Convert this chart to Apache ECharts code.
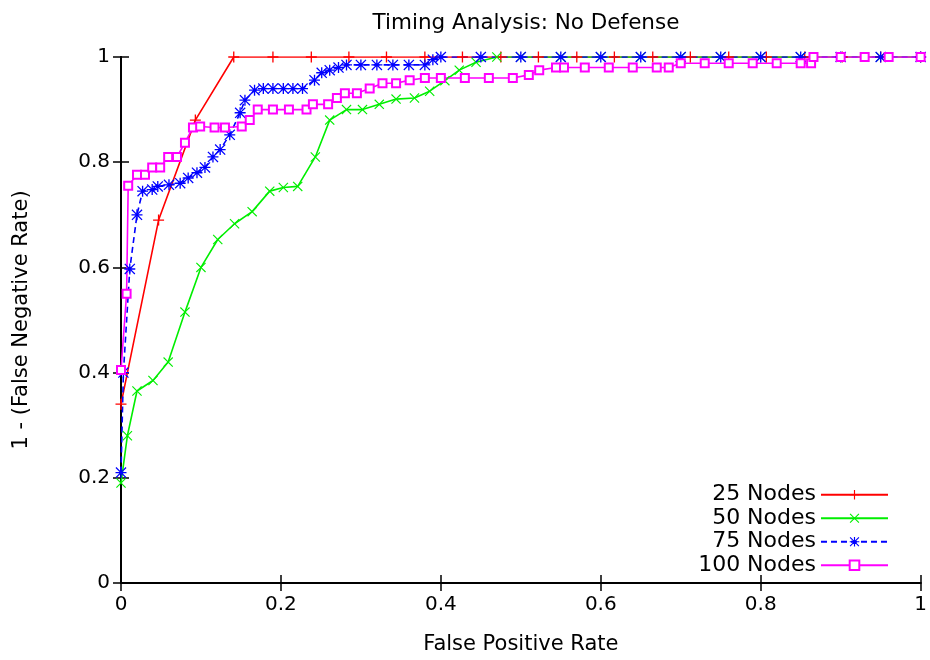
<!DOCTYPE html>
<html><head><meta charset="utf-8">
<script src="https://cdn.jsdelivr.net/npm/echarts@6/dist/echarts.min.js"></script>
<style>html,body{margin:0;padding:0;background:#fff}#c{width:930px;height:660px}</style>
</head><body><div id="c"></div>
<script>
const titleText = 'Timing Analysis: No Defense';
const xName = 'False Positive Rate';
const yName = '1 - (False Negative Rate)';
const seriesNames = ['25 Nodes', '50 Nodes', '75 Nodes', '100 Nodes'];
const tickValues = [0, 0.2, 0.4, 0.6, 0.8, 1];

const nodes25X = [0, 0.047, 0.093, 0.141, 0.19, 0.238, 0.285, 0.332, 0.38, 0.427, 0.475, 0.522, 0.57, 0.617, 0.665, 0.712, 0.76, 0.807, 0.855, 0.902, 0.95, 1.0];
const nodes25Y = [0.34, 0.69, 0.88, 1, 1, 1, 1, 1, 1, 1, 1, 1, 1, 1, 1, 1, 1, 1, 1, 1, 1, 1];

const nodes50X = [0, 0.008, 0.02, 0.04, 0.059, 0.08, 0.1, 0.121, 0.142, 0.164, 0.186, 0.203, 0.221, 0.243, 0.261, 0.282, 0.302, 0.323, 0.344, 0.367, 0.386, 0.405, 0.423, 0.444, 0.47, 0.5, 0.55, 0.6, 0.65, 0.7, 0.75, 0.8, 0.85, 0.9, 0.95, 1];
const nodes50Y = [0.19, 0.28, 0.365, 0.385, 0.42, 0.515, 0.6, 0.653, 0.683, 0.706, 0.745, 0.752, 0.754, 0.81, 0.88, 0.9, 0.9, 0.91, 0.92, 0.922, 0.935, 0.955, 0.975, 0.99, 1, 1, 1, 1, 1, 1, 1, 1, 1, 1, 1, 1];

const nodes75X = [0, 0.003, 0.011, 0.02, 0.027, 0.039, 0.046, 0.06, 0.074, 0.084, 0.095, 0.105, 0.115, 0.124, 0.136, 0.149, 0.155, 0.167, 0.178, 0.19, 0.203, 0.215, 0.227, 0.242, 0.251, 0.261, 0.272, 0.282, 0.3, 0.32, 0.34, 0.36, 0.38, 0.39, 0.4, 0.45, 0.5, 0.55, 0.6, 0.65, 0.7, 0.75, 0.8, 0.85, 0.9, 0.95, 1];
const nodes75Y = [0.21, 0.4, 0.597, 0.7, 0.745, 0.748, 0.754, 0.757, 0.76, 0.77, 0.78, 0.79, 0.81, 0.824, 0.852, 0.894, 0.918, 0.937, 0.94, 0.94, 0.94, 0.94, 0.94, 0.956, 0.97, 0.975, 0.98, 0.985, 0.985, 0.985, 0.985, 0.985, 0.985, 0.995, 1, 1, 1, 1, 1, 1, 1, 1, 1, 1, 1, 1, 1];

const nodes100X = [0, 0.007, 0.009, 0.02, 0.03, 0.039, 0.049, 0.059, 0.07, 0.08, 0.09, 0.099, 0.117, 0.13, 0.151, 0.161, 0.171, 0.19, 0.21, 0.232, 0.24, 0.259, 0.27, 0.28, 0.295, 0.311, 0.327, 0.344, 0.361, 0.38, 0.4, 0.43, 0.46, 0.49, 0.51, 0.523, 0.544, 0.554, 0.58, 0.61, 0.64, 0.67, 0.685, 0.7, 0.73, 0.76, 0.79, 0.82, 0.85, 0.863, 0.866, 0.9, 0.93, 0.96, 1];
const nodes100Y = [0.405, 0.55, 0.755, 0.776, 0.776, 0.79, 0.79, 0.81, 0.81, 0.837, 0.866, 0.868, 0.866, 0.866, 0.868, 0.88, 0.9, 0.9, 0.9, 0.9, 0.91, 0.91, 0.922, 0.931, 0.931, 0.94, 0.95, 0.95, 0.956, 0.96, 0.96, 0.96, 0.96, 0.96, 0.966, 0.975, 0.98, 0.98, 0.98, 0.98, 0.98, 0.98, 0.98, 0.988, 0.988, 0.988, 0.988, 0.988, 0.988, 0.988, 1, 1, 1, 1, 1];

const colors = ['#ff0000', '#00ee00', '#0000ff', '#ff00ff'];
const FONT = 'DejaVu Sans, Liberation Sans, sans-serif';

const PLUS = 'path://M4.4,0H5.6V4.4H10V5.6H5.6V10H4.4V5.6H0V4.4H4.4Z';
const CROSS = 'path://M0,0.8L0.8,0L5,4.2L9.2,0L10,0.8L5.8,5L10,9.2L9.2,10L5,5.8L0.8,10L0,9.2L4.2,5Z';
const STAR = 'path://M4.4,0H5.6V4.4H10V5.6H5.6V10H4.4V5.6H0V4.4H4.4Z M0,0.8L0.8,0L5,4.2L9.2,0L10,0.8L5.8,5L10,9.2L9.2,10L5,5.8L0.8,10L0,9.2L4.2,5Z';

function pairs(xs, ys) { return xs.map((x, i) => [x, ys[i]]); }

const chart = echarts.init(document.getElementById('c'), null, {renderer: 'canvas'});
const axisCommon = {
  type: 'value', min: 0, max: 1, interval: 0.2,
  axisLine: {show: true, lineStyle: {color: '#000', width: 2}},
  axisTick: {show: true, inside: true, length: 8, lineStyle: {color: '#000', width: 1.5}},
  splitLine: {show: false}
};
const sym = [PLUS, CROSS, STAR, 'emptyRect'];
const symSize = [11, 10, 11, 8];
const dataSets = [pairs(nodes25X, nodes25Y), pairs(nodes50X, nodes50Y), pairs(nodes75X, nodes75Y), pairs(nodes100X, nodes100Y)];

chart.setOption({
  animation: false,
  backgroundColor: '#fff',
  title: {text: titleText, left: 521, textAlign: 'center', top: 7, textStyle: {fontFamily: FONT, fontSize: 21.5, fontWeight: 'normal', color: '#000'}},
  grid: {left: 121, right: 8, top: 57, bottom: 75},
  legend: {
    orient: 'vertical', right: 36, top: 478, align: 'right',
    itemWidth: 67, itemHeight: 12, itemGap: 0,
    textStyle: {fontFamily: FONT, fontSize: 22, color: '#000', lineHeight: 23.5},
    data: seriesNames
  },
  xAxis: [
    Object.assign({}, axisCommon, {
      position: 'bottom', name: xName, nameLocation: 'middle', nameGap: 51,
      nameTextStyle: {fontFamily: FONT, fontSize: 21, color: '#000'},
      axisLabel: {fontFamily: FONT, fontSize: 20, color: '#000', margin: 12, formatter: v => String(+v.toFixed(1))}
    }),
    Object.assign({}, axisCommon, {position: 'top', axisLabel: {show: false}})
  ],
  yAxis: [
    Object.assign({}, axisCommon, {
      position: 'left', name: yName, nameLocation: 'middle', nameGap: 89,
      nameTextStyle: {fontFamily: FONT, fontSize: 21, color: '#000'},
      axisLabel: {fontFamily: FONT, fontSize: 20, color: '#000', margin: 11, formatter: v => String(+v.toFixed(1))}
    }),
    Object.assign({}, axisCommon, {position: 'right', axisLabel: {show: false}})
  ],
  series: seriesNames.map((n, i) => ({
    name: n, type: 'line', xAxisIndex: 0, yAxisIndex: 0,
    data: dataSets[i],
    showAllSymbol: true,
    symbol: sym[i], symbolSize: symSize[i],
    lineStyle: {color: colors[i], width: 1.6, type: i === 2 ? [6, 4] : 'solid'},
    itemStyle: i === 3 ? {color: colors[i], borderWidth: 1.8} : {color: colors[i], borderWidth: 0},
    emphasis: {disabled: true}
  }))
});
</script></body></html>
